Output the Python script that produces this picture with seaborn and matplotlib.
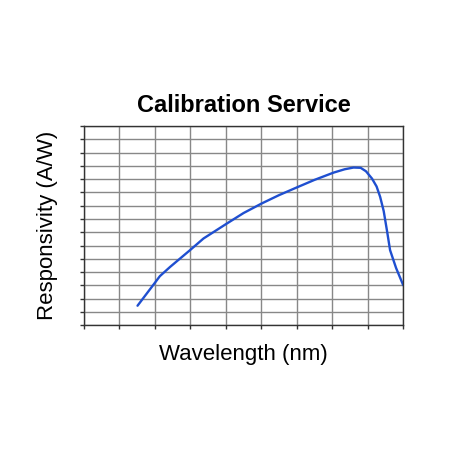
import numpy as np
import seaborn as sns
import matplotlib.pyplot as plt

# curve, in grid units
wavelength = [1.51, 2.0, 2.14, 2.43, 2.99, 3.37, 4.03, 4.5, 5.01, 5.5, 6.0, 6.5, 7.04, 7.35,
              7.6, 7.8, 7.95, 8.12, 8.25, 8.35, 8.45, 8.55, 8.63, 8.8, 9.0]
responsivity = [1.46, 3.19, 3.69, 4.39, 5.65, 6.53, 7.66, 8.45, 9.17, 9.8, 10.38, 10.95, 11.5, 11.75,
                11.88, 11.86, 11.6, 11.05, 10.45, 9.67, 8.6, 7.0, 5.65, 4.3, 3.01]

sns.set_style("white")
plt.rcParams['font.family'] = ['Liberation Sans', 'DejaVu Sans']

fig = plt.figure(figsize=(4.49, 4.49), dpi=100)
ax = fig.add_axes([0.187, 0.276, 0.711, 0.443])
sns.lineplot(x=wavelength, y=responsivity, ax=ax, color='#1f4fd0', linewidth=1.7)

ax.set_xlim(0, 9)
ax.set_ylim(0, 15)
ax.set_xticks(np.arange(0, 10, 1))
ax.set_yticks(np.arange(0, 16, 1))
ax.set_xticklabels([])
ax.set_yticklabels([])
ax.grid(True, color='#888888', linewidth=1)
for s in ax.spines.values():
    s.set_color('#333333')
    s.set_linewidth(1)
ax.tick_params(direction='out', length=3, width=1, color='#333333', bottom=True, left=True)

ax.set_xlabel("Wavelength (nm)", fontsize=16, labelpad=7, color='black', fontweight='medium')
ax.set_ylabel("Responsivity (A/W)", fontsize=16, labelpad=12, color='black', fontweight='medium')
ax.set_title("Calibration Service", fontsize=17, fontweight='bold', pad=10, color='black')

fig.savefig("out.png", dpi=100, facecolor='white')
